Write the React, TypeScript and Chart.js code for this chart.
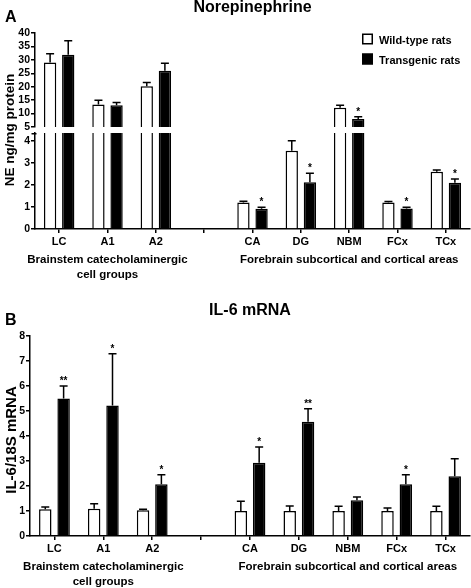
import React, { useEffect, useRef } from 'react';
import { Chart, registerables } from 'chart.js';

Chart.register(...registerables);

// ---------- data ----------
const categories = ['LC', 'A1', 'A2', '', 'CA', 'DG', 'NBM', 'FCx', 'TCx'];
const seriesNames = ['Wild-type rats', 'Transgenic rats'];
const groupLabels = [['Brainstem catecholaminergic', 'cell groups'], ['Forebrain subcortical and cortical areas']];
const groupRanges = [[0, 2], [4, 8]];

// Panel A: Norepinephrine (ng/mg protein)
const neWild = [29.0, 13.4, 20.2, null, 1.2, 3.55, 12.2, 1.2, 2.59];
const neWildErr = [3.25, 1.6, 1.35, null, 0.06, 0.45, 0.9, 0.05, 0.08];
const neTrans = [31.9, 13.1, 25.9, null, 0.92, 2.12, 8.0, 0.93, 2.1];
const neTransErr = [5.2, 1.0, 2.85, null, 0.06, 0.41, 0.8, 0.05, 0.17];
const neSig = ['', '', '', '', '*', '*', '*', '*', '*'];
const neUpperRange = [5, 40, 5];
const neLowerRange = [0, 4.35, 1];

// Panel B: IL-6 mRNA (IL-6/18S)
const ilWild = [1.07, 1.09, 1.03, null, 1.0, 1.0, 1.0, 1.0, 1.0];
const ilWildErr = [0.09, 0.2, 0.04, null, 0.39, 0.2, 0.19, 0.12, 0.19];
const ilTrans = [5.5, 5.22, 2.07, null, 2.93, 4.57, 1.43, 2.07, 2.39];
const ilTransErr = [0.5, 2.07, 0.38, null, 0.63, 0.52, 0.13, 0.38, 0.7];
const ilSig = ['**', '*', '*', '', '*', '**', '', '*', ''];
const ilRange = [0, 8, 1];

// ---------- styling helpers ----------
const FONT = '"Liberation Sans", Arial, Helvetica, sans-serif';

function yScale(range: number[], width: number) {
  return {
    min: range[0],
    max: range[1],
    beginAtZero: false,
    ticks: {
      stepSize: range[2],
      includeBounds: false,
      autoSkip: false,
      color: '#000',
      padding: 1,
      font: { family: FONT, size: 10.5, weight: 'bold' },
    },
    grid: { drawOnChartArea: false, drawTicks: true, tickLength: 4, color: '#000', lineWidth: 1.5 },
    border: { display: true, color: '#000', width: 1.5 },
    afterFit: (s: any) => {
      s.width = width;
    },
  };
}

function xScale(show: boolean) {
  const sc: any = {
    type: 'category',
    offset: true,
    display: show,
    ticks: {
      color: '#000',
      padding: 2,
      autoSkip: false,
      maxRotation: 0,
      font: { family: FONT, size: 11, weight: 'bold' },
    },
    grid: { offset: false, drawOnChartArea: false, drawTicks: true, tickLength: 4, color: '#000', lineWidth: 1.5 },
    border: { display: true, color: '#000', width: 1.5 },
  };
  if (show) {
    sc.afterFit = (s: any) => {
      s.height = 50;
    };
  }
  return sc;
}

function makeDatasets(wild: any[], wildErr: any[], trans: any[], transErr: any[], sig: string[]) {
  const common = { borderColor: '#000', borderWidth: 1.5, clip: 0, categoryPercentage: 0.75, barPercentage: 0.68 };
  return [
    { label: seriesNames[0], data: wild, errors: wildErr, sig: [], backgroundColor: '#fff', ...common },
    { label: seriesNames[1], data: trans, errors: transErr, sig, backgroundColor: '#000', ...common },
  ];
}

const errorBarPlugin = {
  id: 'errorBars',
  afterDatasetsDraw(chart: any) {
    const { ctx } = chart;
    const y = chart.scales.y;
    ctx.save();
    chart.data.datasets.forEach((ds: any, di: number) => {
      const meta = chart.getDatasetMeta(di);
      meta.data.forEach((bar: any, i: number) => {
        const v = ds.data[i];
        if (v == null) return;
        const e = (ds.errors && ds.errors[i]) || 0;
        if (v < y.min || v + e > y.max) return;
        const x = bar.x;
        const y0 = y.getPixelForValue(v);
        const y1 = y.getPixelForValue(v + e);
        ctx.strokeStyle = '#000';
        ctx.lineWidth = 1.5;
        ctx.beginPath();
        ctx.moveTo(x, y0);
        ctx.lineTo(x, y1);
        ctx.moveTo(x - 4, y1);
        ctx.lineTo(x + 4, y1);
        ctx.stroke();
        const s = ds.sig && ds.sig[i];
        if (s) {
          ctx.fillStyle = '#000';
          ctx.font = `bold 10px ${FONT}`;
          ctx.textAlign = 'center';
          ctx.textBaseline = 'alphabetic';
          ctx.fillText(s, x, y1 - 2);
        }
      });
    });
    ctx.restore();
  },
};

function makeDecor(cfg: any) {
  return {
    id: 'decor',
    afterDraw(chart: any) {
      const { ctx, chartArea } = chart;
      ctx.save();
      ctx.fillStyle = '#000';
      ctx.strokeStyle = '#000';
      if (cfg.letter) {
        ctx.font = `bold 16px ${FONT}`;
        ctx.textAlign = 'left';
        ctx.textBaseline = 'alphabetic';
        ctx.fillText(cfg.letter, cfg.letterX, cfg.letterY);
      }
      if (cfg.yTitle) {
        ctx.save();
        ctx.translate(cfg.yTitleX, cfg.yTitleY);
        ctx.rotate(-Math.PI / 2);
        ctx.font = `bold ${cfg.yTitleSize}px ${FONT}`;
        ctx.textAlign = 'center';
        ctx.textBaseline = 'middle';
        ctx.fillText(cfg.yTitle, 0, 0);
        ctx.restore();
      }
      if (cfg.topCap) {
        ctx.lineWidth = 1.5;
        ctx.beginPath();
        ctx.moveTo(chartArea.left - 3.5, chartArea.top + 0.75);
        ctx.lineTo(chartArea.left + 1.5, chartArea.top + 0.75);
        ctx.stroke();
      }
      if (cfg.groups) {
        const x = chart.scales.x;
        ctx.font = `bold 11.5px ${FONT}`;
        ctx.textAlign = 'center';
        ctx.textBaseline = 'middle';
        groupLabels.forEach((lines, gi) => {
          const cx = (x.getPixelForValue(groupRanges[gi][0]) + x.getPixelForValue(groupRanges[gi][1])) / 2;
          lines.forEach((line, li) => {
            ctx.fillText(line, cx, chartArea.bottom + 30.5 + li * 15);
          });
        });
      }
      if (cfg.legend) {
        ctx.font = `bold 11px ${FONT}`;
        ctx.textAlign = 'left';
        ctx.textBaseline = 'alphabetic';
        chart.data.datasets.forEach((ds: any, i: number) => {
          const bx = cfg.legendX;
          const by = cfg.legendY + i * 20;
          ctx.fillStyle = ds.backgroundColor;
          ctx.fillRect(bx, by, 11, 11);
          ctx.lineWidth = 1.5;
          ctx.strokeStyle = '#000';
          ctx.strokeRect(bx + 0.75, by + 0.75, 9.5, 9.5);
          ctx.fillStyle = '#000';
          ctx.fillText(ds.label, bx + 17, by + 10);
        });
      }
      ctx.restore();
    },
  };
}

function titleOpts(text: string, bottom: number) {
  return {
    display: true,
    text,
    color: '#000',
    fullSize: false,
    font: { family: FONT, size: 16, weight: 'bold', lineHeight: 1 },
    padding: { top: 0, bottom },
  };
}

export default function App() {
  const aUpRef = useRef<HTMLCanvasElement>(null);
  const aLowRef = useRef<HTMLCanvasElement>(null);
  const bRef = useRef<HTMLCanvasElement>(null);

  useEffect(() => {
    const common = {
      animation: false,
      responsive: false,
      events: [],
    };

    const aUpper = new Chart(aUpRef.current as HTMLCanvasElement, {
      type: 'bar',
      data: { labels: categories, datasets: makeDatasets(neWild, neWildErr, neTrans, neTransErr, neSig) as any },
      options: {
        ...common,
        layout: { padding: { top: 0, left: 0, right: 1, bottom: 292 - 127 } },
        plugins: {
          legend: { display: false },
          tooltip: { enabled: false },
          title: titleOpts('Norepinephrine', 17) as any,
        },
        scales: { x: xScale(false) as any, y: yScale(neUpperRange, 35) as any },
      } as any,
      plugins: [errorBarPlugin, makeDecor({ letter: 'A', letterX: 5, letterY: 22, legend: true, legendX: 362, legendY: 33.5 })],
    });

    const aLower = new Chart(aLowRef.current as HTMLCanvasElement, {
      type: 'bar',
      data: { labels: categories, datasets: makeDatasets(neWild, neWildErr, neTrans, neTransErr, neSig) as any },
      options: {
        ...common,
        layout: { padding: { top: 133, left: 0, right: 1, bottom: 292 - 50 - 229 } },
        plugins: { legend: { display: false }, tooltip: { enabled: false } },
        scales: { x: xScale(true) as any, y: yScale(neLowerRange, 35) as any },
      } as any,
      plugins: [
        errorBarPlugin,
        makeDecor({ yTitle: 'NE ng/mg protein', yTitleSize: 13.5, yTitleX: 10, yTitleY: 130, topCap: true, groups: true }),
      ],
    });

    const b = new Chart(bRef.current as HTMLCanvasElement, {
      type: 'bar',
      data: { labels: categories, datasets: makeDatasets(ilWild, ilWildErr, ilTrans, ilTransErr, ilSig) as any },
      options: {
        ...common,
        layout: { padding: { top: 8, left: 0, right: 1, bottom: 2 } },
        plugins: {
          legend: { display: false },
          tooltip: { enabled: false },
          title: titleOpts('IL-6 mRNA', 17) as any,
        },
        scales: { x: xScale(true) as any, y: yScale(ilRange, 30) as any },
      } as any,
      plugins: [
        errorBarPlugin,
        makeDecor({ letter: 'B', letterX: 5, letterY: 30, yTitle: 'IL-6/18S mRNA', yTitleSize: 15, yTitleX: 12, yTitleY: 145, groups: true }),
      ],
    });

    return () => {
      aUpper.destroy();
      aLower.destroy();
      b.destroy();
    };
  }, []);

  return (
    <div style={{ position: 'absolute', left: 0, top: 0, width: 471, height: 588, background: '#fff' }}>
      <canvas ref={aUpRef} width={471} height={292} style={{ position: 'absolute', left: 0, top: 0 }} />
      <canvas ref={aLowRef} width={471} height={292} style={{ position: 'absolute', left: 0, top: 0 }} />
      <canvas ref={bRef} width={471} height={293} style={{ position: 'absolute', left: 0, top: 295 }} />
    </div>
  );
}
